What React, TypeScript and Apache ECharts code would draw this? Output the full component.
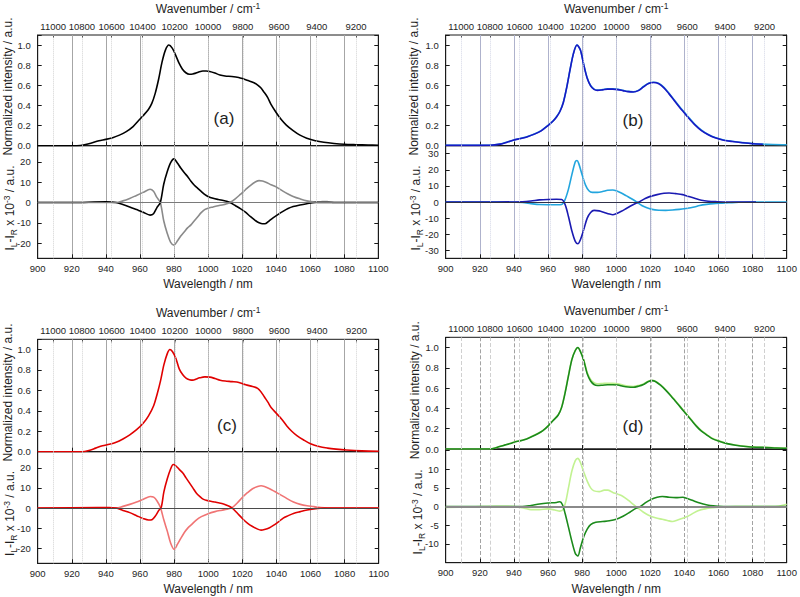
import React, { useEffect, useRef } from 'react';
import * as echarts from 'echarts';

const FONT = '"Liberation Sans", Arial, Helvetica, sans-serif';
const TEXT = '#1e1e1e';
const AXIS = '#1a1a1a';
const TICK_FONT = 9.5;

// Top axis: wavenumber tick labels (cm-1)
const wavenumberTicks = [11000, 10800, 10600, 10400, 10200, 10000, 9800, 9600, 9400, 9200];

// ---------- Panel (a) ----------
const intensityA = [
  [900, 0], [910, 0], [920, 0], [925, 0.002], [930, 0.02], [936, 0.05], [940, 0.063], [944, 0.08], [948, 0.105],
  [952, 0.14], [956, 0.19], [959, 0.245], [962, 0.3], [965, 0.36], [967, 0.42], [969, 0.52], [971, 0.66],
  [973, 0.83], [975, 0.95], [977, 1.0], [979, 0.97], [981, 0.9], [983, 0.82], [985, 0.76], [987, 0.725],
  [989, 0.71], [991, 0.712], [993, 0.722], [995, 0.735], [997, 0.742], [999, 0.742], [1001, 0.737], [1004, 0.722],
  [1007, 0.703], [1010, 0.693], [1014, 0.688], [1018, 0.678], [1021, 0.662], [1024, 0.645], [1027, 0.625],
  [1029, 0.605], [1031, 0.575], [1033, 0.53], [1035, 0.48], [1037, 0.41], [1040, 0.33], [1043, 0.26],
  [1046, 0.205], [1050, 0.15], [1054, 0.105], [1058, 0.075], [1063, 0.05], [1068, 0.034], [1074, 0.022],
  [1080, 0.014], [1087, 0.01], [1094, 0.007], [1100, 0.005],
];
const cplA_dark = [
  [900, 0], [920, 0], [940, 0.3], [946, 0], [950, -1], [954, -2.2], [958, -3.5], [962, -4.8], [966, -6.2],
  [968, -5.5], [970, -2.5], [972, 0], [974, 9], [976, 15], [978, 19.5], [980, 21.5], [982, 19.5], [984, 17],
  [986, 14.8], [988, 12.8], [990, 10.5], [992, 8.5], [994, 7], [996, 5.5], [998, 4], [1000, 3], [1003, 2.1],
  [1006, 1.5], [1009, 1], [1011, 0.6], [1013, 0], [1016, -1.5], [1019, -3], [1022, -4.8], [1025, -7],
  [1028, -9], [1030, -10], [1032, -10.5], [1034, -10.3], [1036, -9], [1038, -7.7], [1041, -6], [1044, -4.4],
  [1047, -3], [1050, -2], [1054, -1.2], [1058, -0.6], [1063, 0], [1080, 0], [1100, 0],
];
const cplA_light = [
  [900, 0], [946, 0], [950, 0.8], [954, 2], [958, 3.5], [962, 5], [966, 6.5], [968, 5.5], [970, 2.5],
  [972, 0], [974, -9], [976, -15], [978, -19.5], [980, -21], [982, -19], [984, -16.5], [986, -14.5],
  [988, -12.5], [990, -11], [992, -9], [994, -7], [996, -5], [998, -3.5], [1000, -2.8], [1003, -2.2],
  [1006, -1.6], [1009, -1.1], [1011, -0.6], [1013, 0], [1016, 1.8], [1019, 4], [1022, 6.3], [1025, 8.5],
  [1028, 10.2], [1030, 10.8], [1032, 10.6], [1034, 10], [1037, 8.8], [1040, 7.7], [1044, 5.6], [1047, 4.2],
  [1050, 3], [1054, 1.8], [1058, 0.8], [1062, 0.3], [1066, 0.4], [1070, 0.5], [1074, 0], [1100, 0],
];

// ---------- Panel (b) ----------
const intensityB_dark = [
  [900, 0.003], [920, 0.003], [926, 0.004], [932, 0.016], [936, 0.035], [940, 0.056], [944, 0.072], [948, 0.09],
  [952, 0.115], [956, 0.148], [960, 0.2], [963, 0.245], [965, 0.285], [967, 0.34], [969, 0.43], [971, 0.58],
  [973, 0.76], [975, 0.92], [977, 1.0], [979, 0.95], [981, 0.8], [983, 0.67], [985, 0.595], [987, 0.56],
  [989, 0.55], [992, 0.555], [995, 0.562], [998, 0.562], [1001, 0.557], [1004, 0.547], [1007, 0.537],
  [1010, 0.533], [1013, 0.547], [1016, 0.585], [1019, 0.618], [1022, 0.628], [1025, 0.615], [1028, 0.575],
  [1031, 0.515], [1034, 0.45], [1037, 0.385], [1040, 0.325], [1043, 0.265], [1046, 0.21], [1050, 0.15],
  [1054, 0.108], [1058, 0.078], [1063, 0.055], [1068, 0.042], [1074, 0.03], [1080, 0.02], [1086, 0.015],
];
const intensityB_light = [
  [900, 0.004], [920, 0.004], [926, 0.005], [932, 0.017], [936, 0.036], [940, 0.057], [944, 0.073], [948, 0.091],
  [952, 0.116], [956, 0.15], [960, 0.202], [963, 0.247], [965, 0.287], [967, 0.342], [969, 0.432], [971, 0.582],
  [973, 0.762], [975, 0.921], [977, 1.0], [979, 0.952], [981, 0.803], [983, 0.673], [985, 0.598], [987, 0.563],
  [989, 0.553], [992, 0.558], [995, 0.565], [998, 0.565], [1001, 0.56], [1004, 0.55], [1007, 0.54],
  [1010, 0.536], [1013, 0.55], [1016, 0.588], [1019, 0.621], [1022, 0.631], [1025, 0.619], [1028, 0.58],
  [1031, 0.521], [1034, 0.456], [1037, 0.392], [1040, 0.332], [1043, 0.272], [1046, 0.216], [1050, 0.155],
  [1054, 0.112], [1058, 0.081], [1063, 0.057], [1068, 0.044], [1074, 0.031], [1080, 0.021], [1086, 0.016],
  [1092, 0.012], [1100, 0.01],
];
const cplB_light = [
  [900, 0], [930, 0], [945, -0.3], [950, -1], [955, -1.6], [960, -1.7], [965, -1.7], [968, -1.5], [970, 1.5],
  [972, 8], [974, 17], [976, 25], [977, 25.8], [978, 24], [980, 17], [982, 10.5], [984, 7], [986, 6], [989, 6],
  [992, 6.5], [995, 7.3], [998, 7.5], [1000, 7], [1003, 5.6], [1006, 3.8], [1009, 2], [1012, 0], [1015, -2.2],
  [1018, -3.6], [1021, -4.6], [1025, -5.1], [1029, -5.2], [1033, -5], [1037, -4.6], [1041, -4], [1045, -3.3],
  [1049, -2.2], [1053, -1.5], [1057, -1], [1062, -0.7], [1066, -0.5], [1072, -0.2], [1080, 0], [1100, 0],
];
const cplB_dark = [
  [900, 0], [930, 0], [945, 0.2], [950, 0.6], [955, 1.3], [960, 1.6], [965, 1.7], [968, 1.6], [970, -1.5],
  [972, -9], [974, -18], [976, -24.5], [977.5, -26], [979, -23.5], [981, -17], [983, -10], [985, -6.5],
  [987, -5.2], [990, -5.5], [993, -6.5], [996, -7.5], [998, -7.9], [1000, -7.3], [1003, -5.8], [1006, -4],
  [1009, -2.2], [1012, -0.6], [1014, 0.4], [1017, 2.2], [1020, 3.5], [1024, 4.6], [1028, 5.4], [1031, 5.6],
  [1035, 5.2], [1039, 4.6], [1042, 3.6], [1046, 2.3], [1050, 1.1], [1054, 0.5], [1059, 0.2], [1065, 0], [1082, 0],
];

// ---------- Panel (c) ----------
const intensityC = [
  [900, 0], [920, 0], [926, 0], [930, 0.012], [934, 0.035], [938, 0.058], [942, 0.073], [946, 0.093], [950, 0.125],
  [954, 0.165], [958, 0.215], [962, 0.28], [965, 0.35], [968, 0.45], [970, 0.56], [972, 0.69], [974, 0.85],
  [976, 0.96], [977.5, 1.0], [979, 0.98], [981, 0.915], [983, 0.81], [985, 0.755], [987, 0.72], [989, 0.705],
  [991, 0.7], [993, 0.712], [995, 0.723], [998, 0.732], [1001, 0.73], [1004, 0.716], [1007, 0.7], [1010, 0.692],
  [1014, 0.686], [1018, 0.678], [1022, 0.655], [1026, 0.638], [1029, 0.62], [1031, 0.585], [1033, 0.535],
  [1035, 0.485], [1037, 0.43], [1040, 0.375], [1043, 0.32], [1046, 0.255], [1049, 0.2], [1052, 0.158],
  [1056, 0.115], [1060, 0.078], [1065, 0.05], [1070, 0.035], [1075, 0.025], [1081, 0.016], [1090, 0.008], [1100, 0.005],
];
const cplC_dark = [
  [900, 0], [935, 0.2], [942, 0.2], [946, 0], [950, -1.2], [954, -2.3], [958, -3.8], [962, -5.3], [965, -6],
  [967, -5.8], [969, -4], [971, -1.2], [972.5, 0.5], [974, 8], [976, 14.5], [978, 19.5], [979.5, 21.6],
  [981, 21], [983, 19.2], [985, 17.5], [987, 15], [989, 12.5], [991, 10], [993, 7.5], [995, 5.8], [997, 4.4],
  [1000, 3.6], [1003, 3.1], [1006, 2.6], [1009, 2], [1012, 1], [1014, 0], [1017, -2.5], [1020, -5.2],
  [1023, -7.5], [1026, -9.2], [1029, -10.5], [1031, -11], [1033, -10.7], [1036, -9.8], [1038, -8.8],
  [1041, -7], [1044, -5], [1047, -3.8], [1050, -2.7], [1054, -1.8], [1058, -1], [1063, -0.3], [1068, 0], [1100, 0],
];
const cplC_light = [
  [900, 0], [946, 0], [950, 0.8], [954, 1.8], [958, 3], [962, 4.4], [966, 5.7], [968, 5.4], [970, 3.5],
  [972, 0.2], [974, -6], [976, -11.5], [978, -17.5], [980, -20.5], [982, -18], [984, -15], [986, -12.2],
  [988, -10], [990, -8.4], [993, -6], [996, -4.3], [1000, -2.8], [1004, -1.8], [1008, -1.1], [1011, -0.6],
  [1014, 0.2], [1017, 2.5], [1020, 5.2], [1023, 7.6], [1026, 9.6], [1029, 10.7], [1031, 11.1], [1033, 10.7],
  [1036, 9.6], [1039, 8.2], [1042, 6.8], [1046, 4.8], [1050, 3], [1054, 1.8], [1058, 1.1], [1062, 0.7],
  [1066, 0.2], [1070, 0], [1100, 0],
];

// ---------- Panel (d) ----------
const intensityD_dark = [
  [900, 0], [920, 0], [926, 0], [930, 0.015], [934, 0.035], [938, 0.055], [941, 0.072], [943, 0.078], [946, 0.09],
  [950, 0.118], [954, 0.15], [957, 0.18], [960, 0.225], [963, 0.28], [966, 0.335], [968, 0.41], [970, 0.55],
  [972, 0.72], [974, 0.88], [976, 0.97], [977.5, 1.0], [979, 0.96], [981, 0.87], [983, 0.74], [985, 0.67],
  [987, 0.635], [989, 0.625], [992, 0.628], [995, 0.632], [998, 0.633], [1001, 0.63], [1004, 0.618],
  [1007, 0.61], [1010, 0.608], [1013, 0.618], [1016, 0.635], [1019, 0.665], [1021, 0.673], [1023, 0.665],
  [1026, 0.628], [1029, 0.58], [1032, 0.525], [1035, 0.465], [1038, 0.405], [1041, 0.345], [1044, 0.285],
  [1047, 0.225], [1050, 0.175], [1053, 0.14], [1056, 0.105], [1060, 0.078], [1065, 0.053], [1070, 0.037],
  [1076, 0.024], [1082, 0.017], [1088, 0.015], [1094, 0.01], [1100, 0.008],
];
const intensityD_light = [
  [900, 0], [920, 0], [926, 0], [930, 0.016], [934, 0.036], [938, 0.056], [941, 0.073], [943, 0.079], [946, 0.091],
  [950, 0.12], [954, 0.152], [957, 0.182], [960, 0.228], [963, 0.283], [966, 0.338], [968, 0.414], [970, 0.555],
  [972, 0.725], [974, 0.884], [976, 0.972], [977.5, 1.0], [979, 0.962], [981, 0.876], [983, 0.752], [985, 0.685],
  [987, 0.652], [989, 0.642], [992, 0.645], [995, 0.648], [998, 0.647], [1001, 0.642], [1004, 0.63],
  [1007, 0.62], [1010, 0.616], [1013, 0.625], [1016, 0.641], [1019, 0.669], [1021, 0.676], [1023, 0.668],
  [1026, 0.632], [1029, 0.584], [1032, 0.53], [1035, 0.47], [1038, 0.41], [1041, 0.35], [1044, 0.29],
  [1047, 0.23], [1050, 0.18], [1053, 0.144], [1056, 0.108], [1060, 0.08], [1065, 0.055], [1070, 0.039],
  [1076, 0.026], [1082, 0.019], [1088, 0.017], [1094, 0.012], [1100, 0.01],
];
const cplD_dark = [
  [900, 0], [945, 0], [950, 0.3], [955, 0.7], [960, 0.95], [965, 1.1], [967, 1.3], [968.5, 0.5], [970, -1.8],
  [972, -5.5], [974, -9.3], [976, -12.5], [977.5, -13.2], [979, -11], [981, -8], [983, -6], [985, -4.8],
  [988, -4.2], [992, -4], [996, -3.8], [1000, -3.4], [1004, -2.6], [1008, -1.5], [1011, -0.6], [1014, 0],
  [1017, 1], [1020, 1.8], [1024, 2.5], [1027, 2.7], [1031, 2.5], [1035, 2.4], [1039, 2.5], [1042, 2.1],
  [1045, 1.6], [1048, 1.1], [1051, 0.7], [1055, 0.3], [1060, 0.1], [1065, 0], [1100, 0],
];
const cplD_light = [
  [900, -0.2], [915, -0.1], [930, 0.1], [940, 0], [946, -0.4], [950, -0.8], [955, -0.8], [960, -0.6],
  [964, -0.9], [967, -1.2], [969, -0.6], [970.5, 1.5], [972, 5], [974, 9.5], [976, 12.3], [977.5, 12.9],
  [979, 11.8], [981, 9.2], [983, 6.8], [985, 5], [987, 4.2], [990, 4], [993, 4.4], [995, 4.4], [998, 3.8],
  [1001, 3.3], [1004, 2.7], [1007, 1.7], [1010, 0.6], [1013, -0.5], [1016, -1.5], [1019, -2.3], [1023, -3],
  [1027, -3.4], [1030, -3.7], [1033, -4], [1036, -3.6], [1039, -3.1], [1042, -2.6], [1045, -1.8], [1048, -1.1],
  [1052, -0.6], [1057, -0.3], [1062, -0.1], [1070, 0], [1085, 0], [1095, 0.1], [1100, 0.6],
];

// ---------- Layout / style per panel ----------
const panels = [
  {
    label: '(a)', labelX: 224, labelY: 118, nameXTop: 8, nameXBot: 10, labelPad: 2,
    left: 37.7, width: 340.6, topTop: 33.3, topH: 112.4, botTop: 145.7, botH: 112.6,
    diffMin: -27.5, diffMax: 28, diffStep: 10, labelLimit: 20,
    top: [{ data: intensityA, color: '#000000' }],
    bottom: [{ data: cplA_light, color: '#8a8a8a' }, { data: cplA_dark, color: '#000000' }],
    gridColor: '#a6a6a6', gridType: 'solid', wnColor: '#d2d2d2', wnType: 'dotted',
    zeroColor: '#7a7a7a', zeroWidth: 1,
  },
  {
    label: '(b)', labelX: 633, labelY: 120, nameXTop: 414, nameXBot: 416, labelPad: 4,
    left: 445.7, width: 341, topTop: 33.3, topH: 112.4, botTop: 145.7, botH: 112.6,
    diffMin: -35, diffMax: 35, diffStep: 10, labelLimit: 30,
    top: [{ data: intensityB_light, color: '#2aa6dc' }, { data: intensityB_dark, color: '#1818c4' }],
    bottom: [{ data: cplB_light, color: '#22a5de' }, { data: cplB_dark, color: '#1a1ab2' }],
    gridColor: '#aeb2cc', gridType: 'solid', wnColor: '#d4d7e6', wnType: 'dotted',
    zeroColor: '#303048', zeroWidth: 1,
  },
  {
    label: '(c)', labelX: 227, labelY: 425, nameXTop: 8, nameXBot: 10, labelPad: 2,
    left: 37.7, width: 341, topTop: 339.3, topH: 112.4, botTop: 451.7, botH: 111.6,
    diffMin: -27.5, diffMax: 28, diffStep: 10, labelLimit: 20,
    top: [{ data: intensityC, color: '#e00000' }],
    bottom: [{ data: cplC_light, color: '#f07474' }, { data: cplC_dark, color: '#e00000' }],
    gridColor: '#a6a6a6', gridType: 'solid', wnColor: '#d2d2d2', wnType: 'dotted',
    zeroColor: '#4a4a4a', zeroWidth: 1,
  },
  {
    label: '(d)', labelX: 633, labelY: 426, nameXTop: 415, nameXBot: 418, labelPad: 2,
    left: 445.7, width: 341, topTop: 337.3, topH: 111.7, botTop: 449, botH: 113.7,
    diffMin: -15, diffMax: 15.4, diffStep: 5, labelLimit: 10,
    top: [{ data: intensityD_light, color: '#bff08e' }, { data: intensityD_dark, color: '#1b8a1b' }],
    bottom: [{ data: cplD_light, color: '#c2f292' }, { data: cplD_dark, color: '#1b8a1b' }],
    gridColor: '#a3a3a3', gridType: 'dashed', wnColor: '#d0d0d0', wnType: 'dashed',
    zeroColor: '#8a8a8a', zeroWidth: 2,
  },
];

const richScripts = {
  sup: { fontSize: 8.5, lineHeight: 9, verticalAlign: 'top', fontFamily: FONT, fill: TEXT, color: TEXT },
  sub: { fontSize: 8.5, lineHeight: 9, verticalAlign: 'bottom', fontFamily: FONT, fill: TEXT, color: TEXT },
};

function stepFormatter(step: number, digits: number, limit: number) {
  return (v: number) => {
    const k = v / step;
    if (Math.abs(k - Math.round(k)) > 1e-6) return '';
    const r = Math.round(k) * step;
    if (Math.abs(r) > limit + 1e-6) return '';
    return r.toFixed(digits);
  };
}

function buildOption() {
  const wnPositions = wavenumberTicks.map((w) => 1e7 / w);
  const grid: any[] = [];
  const xAxis: any[] = [];
  const yAxis: any[] = [];
  const series: any[] = [];
  const graphic: any[] = [];

  panels.forEach((p) => {
    ['top', 'bottom'].forEach((part) => {
      const isTop = part === 'top';
      const gi = grid.length;
      grid.push({
        left: p.left, top: isTop ? p.topTop : p.botTop, width: p.width, height: isTop ? p.topH : p.botH,
        show: true, borderColor: AXIS, borderWidth: 1, backgroundColor: 'transparent',
      });
      const xi = xAxis.length;
      xAxis.push({
        gridIndex: gi, type: 'value', position: 'bottom', min: 900, max: 1100, interval: 20,
        axisLine: { show: true, onZero: false, lineStyle: { color: AXIS, width: 1 } },
        axisTick: { show: true, inside: true, length: 4, lineStyle: { color: AXIS } },
        axisLabel: {
          show: !isTop, fontSize: TICK_FONT, color: TEXT, margin: 5, fontFamily: FONT,
          formatter: (v: number) => String(Math.round(v)),
        },
        splitLine: { show: true, lineStyle: { color: p.gridColor, type: p.gridType, width: 1 } },
        name: isTop ? '' : 'Wavelength / nm', nameLocation: 'middle', nameGap: 20,
        nameTextStyle: { fontSize: 12, color: TEXT, fontFamily: FONT },
      });
      if (isTop) {
        xAxis.push({
          gridIndex: gi, type: 'value', position: 'top', min: 900, max: 1100,
          axisLine: { show: false, onZero: false },
          axisTick: { show: true, inside: true, length: 3, customValues: wnPositions, lineStyle: { color: AXIS } },
          axisLabel: {
            show: true, customValues: wnPositions, fontSize: TICK_FONT, color: TEXT, margin: 4, fontFamily: FONT,
            formatter: (v: number) => String(Math.round(1e7 / v)),
          },
          splitLine: { show: false },
          name: 'Wavenumber / cm{sup|-1}', nameLocation: 'middle', nameGap: 18,
          nameTextStyle: { fontSize: 12, lineHeight: 16, color: TEXT, fontFamily: FONT, rich: richScripts },
        });
      }
      const yMin = isTop ? 0 : p.diffMin;
      const yMax = isTop ? 1.1 : p.diffMax;
      const step = isTop ? 0.2 : p.diffStep;
      const yi = yAxis.length;
      yAxis.push({
        gridIndex: gi, type: 'value', position: 'left', min: yMin, max: yMax, minInterval: step, maxInterval: step,
        axisLine: { show: true, onZero: false, lineStyle: { color: AXIS, width: 1 } },
        axisTick: { show: true, inside: true, length: 4, lineStyle: { color: AXIS } },
        axisLabel: {
          fontSize: TICK_FONT, color: TEXT, margin: 7, fontFamily: FONT,
          padding: isTop ? [0, 0, p.labelPad, 0] : [p.labelPad, 0, 0, 0],
          formatter: stepFormatter(step, isTop ? 1 : 0, isTop ? 1.0 : p.labelLimit),
        },
        splitLine: { show: false },
      });
      yAxis.push({
        gridIndex: gi, type: 'value', position: 'right', min: yMin, max: yMax, minInterval: step, maxInterval: step,
        axisLine: { show: true, onZero: false, lineStyle: { color: AXIS, width: 1 } },
        axisTick: { show: true, inside: true, length: 4, lineStyle: { color: AXIS } },
        axisLabel: { show: false },
        splitLine: { show: false },
      });

      const markData: any[] = wnPositions.map((x) => ({ xAxis: x }));
      if (!isTop) {
        markData.push({ yAxis: 0, lineStyle: { color: p.zeroColor, width: p.zeroWidth, type: 'solid' } });
      }
      series.push({
        type: 'line', xAxisIndex: xi, yAxisIndex: yi, data: [], symbol: 'none', z: 1, silent: true,
        markLine: {
          silent: true, symbol: ['none', 'none'], label: { show: false }, animation: false,
          lineStyle: { color: p.wnColor, type: p.wnType, width: 1 },
          data: markData,
        },
      });
      (isTop ? p.top : p.bottom).forEach((s) => {
        series.push({
          type: 'line', xAxisIndex: xi, yAxisIndex: yi, data: s.data, symbol: 'none', smooth: 0.3,
          silent: true, z: 3,
          lineStyle: { color: s.color, width: 1.6 }, itemStyle: { color: s.color },
        });
      });
    });

    // y-axis titles (rotated), placed beside each plot
    graphic.push({
      type: 'text', x: p.nameXTop, y: p.topTop + p.topH / 2 - 3, rotation: Math.PI / 2, silent: true,
      style: {
        text: 'Normalized intensity / a.u.', fontSize: 12, fontFamily: FONT, fill: TEXT,
        align: 'center', verticalAlign: 'middle',
      },
    });
    graphic.push({
      type: 'text', x: p.nameXBot, y: p.botTop + p.botH / 2 + 6, rotation: Math.PI / 2, silent: true,
      style: {
        text: 'I{sub|L}-I{sub|R} x 10{sup|-3} / a.u.', fontSize: 12, lineHeight: 16, fontFamily: FONT, fill: TEXT,
        align: 'center', verticalAlign: 'middle', rich: richScripts,
      },
    });
    graphic.push({
      type: 'text', x: p.labelX, y: p.labelY, silent: true,
      style: {
        text: p.label, fontSize: 17, fontFamily: FONT, fill: TEXT,
        align: 'center', verticalAlign: 'middle',
      },
    });
  });

  return {
    animation: false,
    backgroundColor: '#ffffff',
    textStyle: { fontFamily: FONT, color: TEXT },
    grid, xAxis, yAxis, series, graphic,
  };
}

export default function App() {
  const ref = useRef<HTMLDivElement | null>(null);
  useEffect(() => {
    if (!ref.current) return;
    const chart = echarts.init(ref.current, undefined, { renderer: 'svg' });
    chart.setOption(buildOption() as any);
    return () => chart.dispose();
  }, []);
  return (
    <div
      ref={ref}
      style={{ position: 'absolute', left: 0, top: 0, width: 800, height: 597, background: '#fff' }}
    />
  );
}
